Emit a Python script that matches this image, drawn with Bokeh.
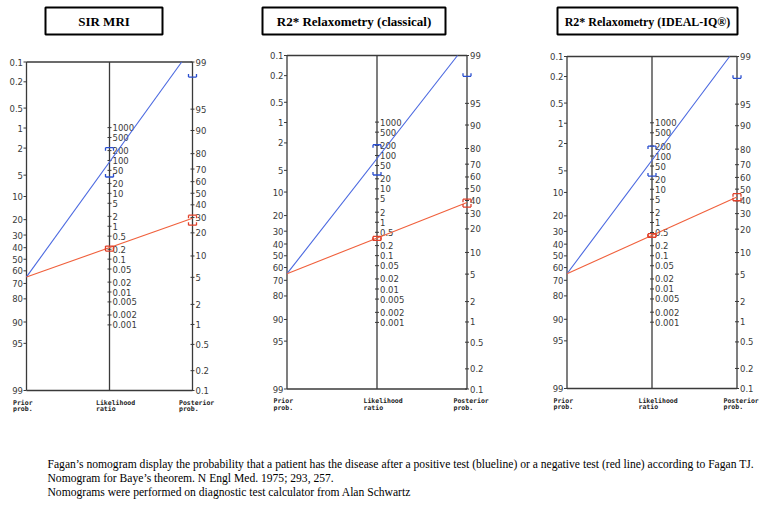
import math
from bokeh.plotting import figure
from bokeh.models import Range1d
from bokeh.core.properties import value
from bokeh.embed import file_html
from bokeh.resources import INLINE

# ---------------- data ----------------
titles = ["SIR MRI", "R2* Relaxometry (classical)", "R2* Relaxometry (IDEAL-IQ®)"]
prior_prob = [65, 65, 65]            # %
lr_pos = [90, 81, 75]                # positive likelihood ratio (blue)
lr_pos_low = [31.5, 26, 25]
lr_pos_high = [246, 210, 200]
lr_neg = [0.224, 0.336, 0.41]        # negative likelihood ratio (red)
lr_neg_low = [0.176, 0.286, 0.36]
lr_neg_high = [0.25, 0.376, 0.46]
prob_ticks = [0.1, 0.2, 0.5, 1, 2, 5, 10, 20, 30, 40, 50, 60, 70, 80, 90, 95, 99]
lr_ticks = [1000, 500, 200, 100, 50, 20, 10, 5, 2, 1, 0.5, 0.2, 0.1, 0.05, 0.02,
            0.01, 0.005, 0.002, 0.001]
axis_names = [("Prior", "prob."), ("Likelihood", "ratio"), ("Posterior", "prob.")]
caption = [
    "Fagan\u2019s nomogram display the probability that a patient has the disease after a positive test (blueline) or a negative test (red line) according to Fagan TJ.",
    "Nomogram for Baye\u2019s theorem. N Engl Med. 1975; 293, 257.",
    "Nomograms were performed on diagnostic test calculator from Alan Schwartz",
]

# ---------------- layout (page pixel coords) ----------------
W, H = 762, 499
OFF = 0
panels = [
    dict(xl=26, xr=192, top=61.5, bot=390, box=(45, 162, 7, 34), tsize="13px"),
    dict(xl=286.5, xr=466.5, top=55, bot=388.5, box=(262, 445, 7, 34), tsize="13px"),
    dict(xl=566.5, xr=736.5, top=56, bot=388, box=(557, 737, 7, 34), tsize="12px"),
]

def logit(p):
    return math.log(p / (1 - p))

LO, HI = logit(0.001), logit(0.99)
SPAN = HI - LO

def y_left(pct, g):
    t = (logit(pct / 100) - LO) / SPAN
    return g["top"] + t * (g["bot"] - g["top"]) - OFF

def y_right_logit(lg, g):
    t = (HI - lg) / SPAN
    return g["top"] + t * (g["bot"] - g["top"]) - OFF

def y_right(pct, g):
    return y_right_logit(logit(pct / 100), g)

def y_mid(lr, g):
    t = 0.5 - math.log(lr) / (2 * SPAN)
    return g["top"] + t * (g["bot"] - g["top"]) - OFF

def fmt(v):
    return "%g" % v

p = figure(width=W, height=H, output_backend="svg", toolbar_location=None,
           x_range=Range1d(0, W), y_range=Range1d(H, 0), min_border=0)
p.axis.visible = False
p.grid.visible = False
p.outline_line_color = None

AX = "#3a3a3a"
NUMFONT = value("DejaVu Sans")
NUMSIZE = "8.5px"
BLUE, BLUE_D = "#4a68e0", "#2a4fd0"
RED, RED_D = "#f0603c", "#e0402a"

def bracket(x, y, direction, color):
    # horizontal cap with small vertical stubs pointing to the interval
    d = 3 * direction
    p.segment([x - 4], [y], [x + 4], [y], line_color=color, line_width=1.3)
    p.segment([x - 4, x + 4], [y, y], [x - 4, x + 4], [y + d, y + d], line_color=color, line_width=1.3)

for i, g in enumerate(panels):
    xl, xr = g["xl"] - OFF, g["xr"] - OFF
    xm = (xl + xr) / 2
    top, bot = g["top"] - OFF, g["bot"] - OFF

    # title box
    bl, br, bt, bb = [v - OFF for v in g["box"]]
    p.quad(left=[bl], right=[br], top=[bt], bottom=[bb], fill_color="white",
           line_color="black", line_width=2)
    p.text(x=[(bl + br) / 2], y=[(bt + bb) / 2 + 0.5], text=[titles[i]], text_align="center",
           text_baseline="middle", text_font=value("Liberation Serif"), text_font_style="bold",
           text_font_size=g["tsize"], text_color="black")

    # frame
    p.segment([xl, xm, xr, xl, xl], [top, top, top, top, bot],
              [xl, xm, xr, xr, xr], [bot, bot, bot, top, bot],
              line_color=AX, line_width=1.3)

    # left axis ticks / labels
    ly = [y_left(v, g) for v in prob_ticks]
    p.segment([xl - 3] * len(ly), ly, [xl] * len(ly), ly, line_color=AX, line_width=1)
    p.text(x=[xl - 3.5] * len(ly), y=ly, text=[fmt(v) for v in prob_ticks], text_align="right",
           text_baseline="middle", text_font=NUMFONT, text_font_size=NUMSIZE, text_color=AX)

    # right axis ticks / labels
    ry = [y_right(v, g) for v in prob_ticks]
    p.segment([xr - 2] * len(ry), ry, [xr + 2] * len(ry), ry, line_color=AX, line_width=1)
    p.text(x=[xr + 3] * len(ry), y=ry, text=[fmt(v) for v in prob_ticks], text_align="left",
           text_baseline="middle", text_font=NUMFONT, text_font_size=NUMSIZE, text_color=AX)

    # middle (LR) ticks / labels
    my = [y_mid(v, g) for v in lr_ticks]
    p.segment([xm - 2] * len(my), my, [xm + 2] * len(my), my, line_color=AX, line_width=1)
    p.text(x=[xm + 3] * len(my), y=my, text=[fmt(v) for v in lr_ticks], text_align="left",
           text_baseline="middle", text_font=NUMFONT, text_font_size=NUMSIZE, text_color=AX)

    # axis names
    for ax_x, (a, b) in zip([xl, xm, xr], axis_names):
        p.text(x=[ax_x - 13.5, ax_x - 13.5], y=[bot + 12, bot + 18.5], text=[a, b],
               text_align="left", text_baseline="middle", text_font=value("DejaVu Sans Mono"),
               text_font_style="bold", text_font_size="6.5px", text_color="#222222")

    # lines: positive (blue) and negative (red)
    lp = logit(prior_prob[i] / 100)
    y0 = y_left(prior_prob[i], g)
    for lr, lo, hi, col, dcol in [(lr_pos[i], lr_pos_low[i], lr_pos_high[i], BLUE, BLUE_D),
                                  (lr_neg[i], lr_neg_low[i], lr_neg_high[i], RED, RED_D)]:
        y1 = y_right_logit(lp + math.log(lr), g)
        x1 = xr
        if y1 < top:
            x1 = xl + (xr - xl) * (y0 - top) / (y0 - y1)
            y1 = top
        p.line([xl, x1], [y0, y1], line_color=col, line_width=1.1)
        # CI brackets on LR axis
        bracket(xm, y_mid(hi, g), 1, dcol)
        bracket(xm, y_mid(lo, g), -1, dcol)
        # CI brackets on posterior axis
        yh = y_right_logit(lp + math.log(hi), g)
        yl = y_right_logit(lp + math.log(lo), g)
        if yh >= top:
            bracket(xr, yh, 1, dcol)
        if yl >= top:
            bracket(xr, yl, -1, dcol)

# caption
p.text(x=[47 - OFF] * 3, y=[464 - OFF, 478 - OFF, 492 - OFF], text=caption, text_align="left",
       text_baseline="middle", text_font=value("Liberation Serif"), text_font_size="11.6px",
       text_color="black")

open("out.html", "w").write(file_html(p, INLINE))
